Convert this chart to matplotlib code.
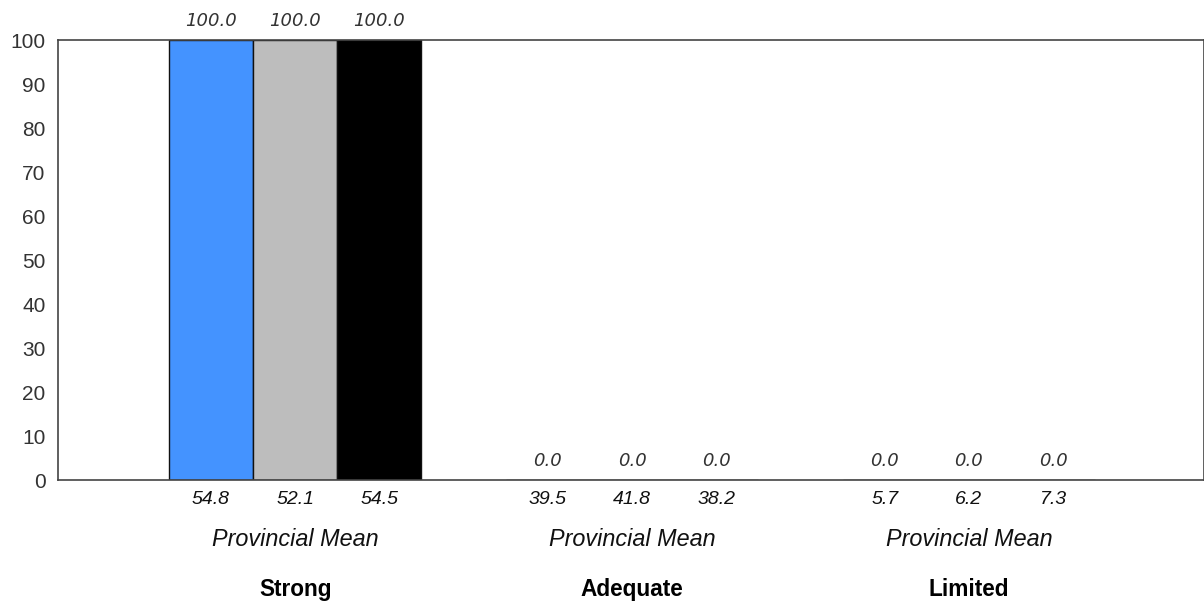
import matplotlib.pyplot as plt
import numpy as np

categories = ['Strong', 'Adequate', 'Limited']
school_a = [100.0, 0.0, 0.0]
school_b = [100.0, 0.0, 0.0]
school_c = [100.0, 0.0, 0.0]
mean_a = [54.8, 39.5, 5.7]
mean_b = [52.1, 41.8, 6.2]
mean_c = [54.5, 38.2, 7.3]
colors = ['#4493ff', '#bdbdbd', '#000000']

plt.rcParams['font.family'] = ['Liberation Sans', 'DejaVu Sans']

fig = plt.figure(figsize=(12.04, 6.10), dpi=100)
ax = fig.add_axes([58 / 1204, 1 - 480 / 610, 1 - 58 / 1204, 440 / 610])

x = np.arange(len(categories))
w = 0.25
series = [school_a, school_b, school_c]
means = [mean_a, mean_b, mean_c]

for k, (vals, mvals) in enumerate(zip(series, means)):
    pos = x + (k - 1) * w
    ax.bar(pos, vals, width=w, color=colors[k], edgecolor='#111111', linewidth=1.0)
    for px, v, m in zip(pos, vals, mvals):
        # value above the bar
        ax.annotate('%.1f' % v, (px, v), xytext=(0, 13.7), textcoords='offset points',
                    ha='center', va='center', fontsize=13, style='italic',
                    family='DejaVu Sans', color='#333333', annotation_clip=False)
        # provincial mean below the axis
        ax.annotate('%.1f' % m, (px, 0), xycoords=('data', 'axes fraction'),
                    xytext=(0, -14.4), textcoords='offset points',
                    ha='center', va='center', fontsize=14, style='italic', color='#111111')

for i, cat in enumerate(categories):
    ax.annotate('Provincial Mean', (x[i], 0), xycoords=('data', 'axes fraction'),
                xytext=(0, -42.5), textcoords='offset points',
                ha='center', va='center', fontsize=16.8, style='italic', color='#111111')
    ax.annotate(cat, (x[i], 0), xycoords=('data', 'axes fraction'),
                xytext=(0, -78.5), textcoords='offset points',
                ha='center', va='center', fontsize=16.3, fontweight='bold', color='#000000')

ax.set_xlim(-0.704, 2.698)
ax.set_ylim(0, 100)
ax.set_yticks(np.arange(0, 101, 10))
ax.set_xticks([])
ax.tick_params(axis='y', length=0, pad=9, labelsize=15, labelcolor='#333333')

for s in ax.spines.values():
    s.set_color('#444444')
    s.set_linewidth(1.2)

fig.savefig('out.png', dpi=100)
